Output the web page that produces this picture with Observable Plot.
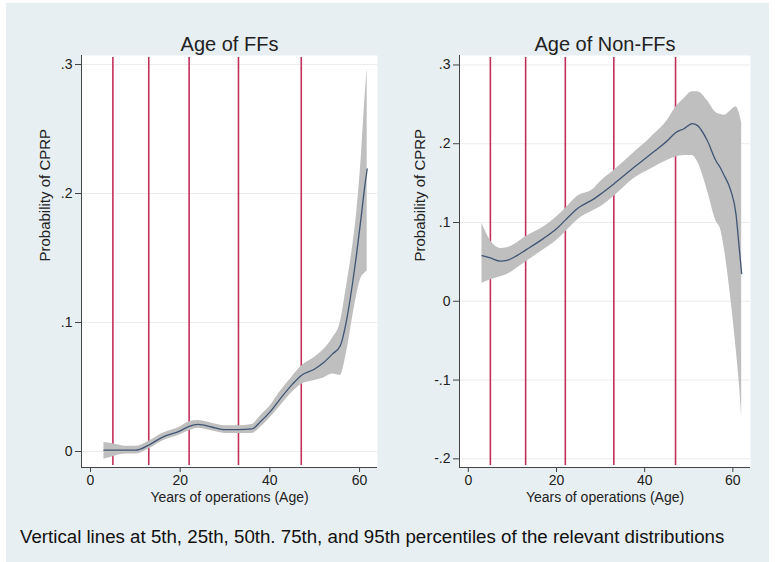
<!DOCTYPE html>
<html><head><meta charset="utf-8">
<script src="https://cdn.jsdelivr.net/npm/d3@7"></script>
<script src="https://cdn.jsdelivr.net/npm/@observablehq/plot@0.6"></script>
<style>
body{margin:0;background:#fff;font-family:"Liberation Sans",Arial,sans-serif;}
#wrap{position:relative;width:775px;height:562px;overflow:hidden;background:#fff;}
#bg{position:absolute;left:6px;top:3px;width:763px;height:559px;background:#e8eff2;}
#left{position:absolute;left:0;top:0;}
#right{position:absolute;left:390px;top:0;}
#caption{position:absolute;left:20px;top:526px;font-size:18.7px;line-height:22px;color:#111;white-space:nowrap;}
</style></head><body>
<div id="wrap"><div id="bg"></div><div id="left"></div><div id="right"></div><div id="caption"></div></div>
<script>
// Percentile positions (5th, 25th, 50th, 75th, 95th) — same in both panels
const percentiles = [5, 13, 22, 33, 47];

// Panel 1: Age of FFs
const ffAge = [3, 5, 8, 10, 13, 16, 20, 22, 24, 27, 30, 33, 36, 38, 40, 42, 45, 47, 50, 52, 54, 55.7, 57, 58.5, 59.3, 60.4, 61.1, 61.7];
const ffFit = [0.001, 0.001, 0.001, 0.001, 0.005, 0.011, 0.016, 0.0195, 0.021, 0.019, 0.017, 0.017, 0.0175, 0.0235, 0.0305, 0.0395, 0.052, 0.059, 0.064, 0.069, 0.0757, 0.082, 0.100, 0.132, 0.152, 0.183, 0.204, 0.219];
const ffLo  = [-0.006, -0.004, -0.002, -0.002, 0.002, 0.008, 0.013, 0.016, 0.018, 0.016, 0.014, 0.014, 0.014, 0.019, 0.026, 0.034, 0.046, 0.052, 0.055, 0.057, 0.060, 0.059, 0.075, 0.105, 0.120, 0.135, 0.138, 0.140];
const ffHi  = [0.007, 0.006, 0.004, 0.004, 0.008, 0.014, 0.019, 0.023, 0.024, 0.022, 0.020, 0.020, 0.021, 0.028, 0.035, 0.045, 0.058, 0.066, 0.073, 0.079, 0.088, 0.100, 0.126, 0.160, 0.183, 0.229, 0.268, 0.297];

// Panel 2: Age of Non-FFs
const nfAge = [3.1, 5, 7.3, 8.8, 11, 13, 17, 20, 22, 24.7, 28.5, 30, 33, 37.6, 41.4, 45.2, 47, 48.9, 50.8, 52, 54.2, 56.1, 57.3, 58, 59.5, 60.7, 61.4, 62];
const nfFit = [0.058, 0.055, 0.051, 0.052, 0.058, 0.065, 0.0795, 0.092, 0.103, 0.1175, 0.130, 0.136, 0.149, 0.170, 0.187, 0.204, 0.214, 0.219, 0.2255, 0.223, 0.204, 0.179, 0.168, 0.160, 0.141, 0.111, 0.070, 0.035];
const nfLo  = [0.023, 0.027, 0.031, 0.034, 0.042, 0.050, 0.065, 0.077, 0.088, 0.103, 0.1155, 0.120, 0.133, 0.156, 0.168, 0.179, 0.183, 0.185, 0.185, 0.177, 0.141, 0.103, 0.090, 0.069, 0.005, -0.058, -0.100, -0.147];
const nfHi  = [0.099, 0.077, 0.067, 0.068, 0.074, 0.082, 0.094, 0.107, 0.1175, 0.133, 0.143, 0.152, 0.166, 0.189, 0.208, 0.230, 0.246, 0.257, 0.266, 0.266, 0.255, 0.240, 0.237, 0.236, 0.242, 0.247, 0.240, 0.226];

const ticksX = [0, 20, 40, 60];
const ffTicksY = [0, 0.1, 0.2, 0.3];
const nfTicksY = [-0.2, -0.1, 0, 0.1, 0.2, 0.3];
const titles = ["Age of FFs", "Age of Non-FFs"];
const yLabel = "Probability of CPRP";
const xLabel = "Years of operations (Age)";
const captionText = "Vertical lines at 5th, 25th, 50th. 75th, and 95th percentiles of the relevant distributions";

const stataFmt = d => d === 0 ? "0" : String(d).replace("0.", ".");

function rows(age, fit, lo, hi) {
  return age.map((a, i) => ({age: a, fit: fit[i], lo: lo[i], hi: hi[i]}));
}

function panel({data, title, yTicks, yDomain, width, marginLeft, marginRight, yLabelDx}) {
  const xDomain = [-2, 64];
  return Plot.plot({
    width, height: 520,
    marginLeft, marginRight, marginTop: 55, marginBottom: 53,
    x: {domain: xDomain},
    y: {domain: yDomain},
    style: {background: "transparent", fontFamily: "'Liberation Sans', Arial, sans-serif", color: "#222", overflow: "visible"},
    marks: [
      Plot.frame({fill: "white", stroke: "none"}),
      Plot.ruleY(yTicks, {stroke: "#ececec", strokeWidth: 1}),
      Plot.ruleX(percentiles, {stroke: "#c2305a", strokeWidth: 1.6, inset: 2}),
      Plot.areaY(data, {x: "age", y1: "lo", y2: "hi", fill: "#bfbfbf", curve: "monotone-x"}),
      Plot.lineY(data, {x: "age", y: "fit", stroke: "#3f5573", strokeWidth: 1.3, curve: "monotone-x"}),
      Plot.ruleX([xDomain[0]], {stroke: "#444", strokeWidth: 1}),
      Plot.ruleY([yDomain[0]], {stroke: "#444", strokeWidth: 1}),
      Plot.axisX(ticksX, {tickSize: 5, tickPadding: 3, fontSize: 14, label: null, stroke: "#444"}),
      Plot.axisY(yTicks, {tickSize: 6, tickPadding: 3, fontSize: 14, label: null, tickFormat: stataFmt, stroke: "#444"}),
      Plot.text([title], {text: d => d, frameAnchor: "top", dy: -19, fontSize: 20, fill: "#222"}),
      Plot.text([xLabel], {text: d => d, frameAnchor: "bottom", dy: 34, fontSize: 14, fill: "#222"}),
      Plot.text([yLabel], {text: d => d, frameAnchor: "left", rotate: -90, dx: yLabelDx, fontSize: 15, fill: "#222"})
    ]
  });
}

document.getElementById("left").append(panel({
  data: rows(ffAge, ffFit, ffLo, ffHi), title: titles[0], yTicks: ffTicksY,
  yDomain: [-0.0124, 0.307], width: 390, marginLeft: 81, marginRight: 13, yLabelDx: -36
}));
document.getElementById("right").append(panel({
  data: rows(nfAge, nfFit, nfLo, nfHi), title: titles[1], yTicks: nfTicksY,
  yDomain: [-0.211, 0.312], width: 385, marginLeft: 69, marginRight: 25, yLabelDx: -39
}));
document.getElementById("caption").textContent = captionText;
</script>
</body></html>
